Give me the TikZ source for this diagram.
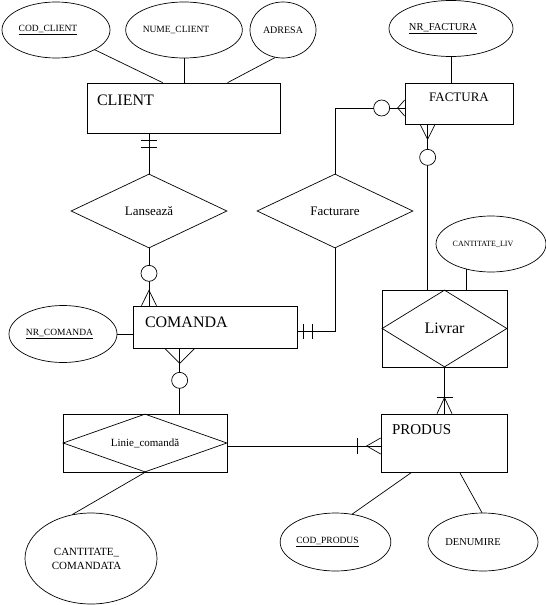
\documentclass[tikz,border=0pt]{standalone}
\usepackage{fontspec}
\setmainfont{Liberation Serif}
\usetikzlibrary{shapes.geometric, positioning, calc}
\newcommand{\fsz}[1]{\fontsize{#1}{#1}\selectfont}
\newcommand{\shl}[1]{#1\hspace*{16pt}}
\tikzset{
  % Entitati si relatii
  entity/.style={draw, rectangle, inner sep=0},
  ent text/.style={inner sep=0, font=\fsz{16}},
  rel/.style={draw, diamond, aspect=2.1, inner sep=0, minimum width=156, minimum height=74, font=\fsz{13}},
  % Atribute
  attr/.style={draw, ellipse, inner sep=0, minimum width=108, minimum height=56, font=\fsz{9.5}},
  % Conectori
  optional/.style={draw, circle, fill=white, inner sep=0, minimum size=16}
}

\begin{document}
\begin{tikzpicture}[x=1pt, y=-1pt, line width=0.7pt]
  \useasboundingbox (0,0) rectangle (546,605);
  % Entitati
  \node[entity, minimum width=193, minimum height=50] (client) at (183.5,108) {};
  \node[ent text, below right=12pt and 10pt of client.north west] (clientlbl) {CLIENT};
  \node[entity, minimum width=164, minimum height=42] (comanda) at (215,327) {};
  \node[ent text, below right=11pt and 12pt of comanda.north west] (comandalbl) {COMANDA};
  \node[entity, minimum width=108, minimum height=41] (factura) at (459,103.5) {};
  \node[ent text, font=\fsz{13}, below=10pt of factura.north] (facturalbl) {FACTURA};
  \node[entity, minimum width=126, minimum height=58] (produs) at (444,443) {};
  \node[ent text, font=\fsz{15}, below right=11pt and 11pt of produs.north west] (produslbl) {PRODUS};
  % Relatii
  \node[rel] (lanseaza) at (149,211) {Lansează};
  \node[rel] (facturare) at (335,211) {Facturare};
  \node[entity, minimum width=164, minimum height=58] (linie) at (145,443) {};
  \node[rel, aspect=2.83, minimum width=164, minimum height=58, font=\fsz{11}] (liniedia) at (linie) {Linie\_comandă};
  \node[entity, minimum width=125, minimum height=77] (livrar) at (444.5,328.5) {};
  \node[rel, aspect=1.62, minimum width=125, minimum height=77, font=\fsz{16}] (livrardia) at (livrar) {Livrar};
  % Atribute
  \node[attr] (codclient) at (56,30) {\shl{\underline{COD\_CLIENT}}};
  \node[attr, minimum width=116] (numeclient) at (184,30) {\shl{NUME\_CLIENT}};
  \node[attr, minimum width=66, font=\fsz{10}] (adresa) at (283,30) {ADRESA};
  \node[attr, minimum width=124, font=\fsz{10.5}] (nrfactura) at (451,28.5) {\shl{\underline{NR\_FACTURA}}};
  \node[attr, minimum width=110, font=\fsz{8}] (cantliv) at (491,244) {\shl{CANTITATE\_LIV}};
  \node[attr, minimum height=57] (nrcomanda) at (63,334) {\underline{NR\_COMANDA}\hspace*{7pt}};
  \node[attr, minimum width=132, minimum height=91, align=center, font=\fontsize{11}{14}\selectfont]
    (cantcom) at (91,558.5) {CANTITATE\_\hspace*{9pt}\\COMANDATA\hspace*{9pt}};
  \node[attr, minimum width=107, minimum height=58] (codprodus) at (335.5,542) {\shl{\underline{COD\_PRODUS}}};
  \node[attr, minimum width=110, minimum height=58, font=\fsz{10.5}] (denumire) at (483,542) {DENUMIRE\hspace*{20pt}};

  % Legaturi atribute
  \draw (codclient.-27) -- ($(client.north west)+(76,0)$);
  \draw (numeclient) -- (numeclient |- client.north);
  \draw (adresa.254) -- ($(client.north west)+(141,0)$);
  \draw (nrfactura) -- (nrfactura |- factura.north);
  \draw (cantliv.226) -- (cantliv.226 |- livrar.north);
  \draw (nrcomanda.east) -- (nrcomanda.east -| comanda.west);
  \draw (cantcom.113) -- (linie.south);
  \draw (codprodus.59.5) -- ($(produs.south west)+(31,0)$);
  \draw (denumire.92) -- ($(produs.south west)+(79,0)$);

  % CLIENT - Lanseaza
  \draw (lanseaza.north) -- (lanseaza.north |- client.south);
  \draw ($(lanseaza.north)+(-8,-26)$) -- ++(16,0)
        ($(lanseaza.north)+(-8,-33)$) -- ++(16,0);
  % Lanseaza - COMANDA
  \draw (lanseaza.south) -- (lanseaza.south |- comanda.north);
  \draw ($(lanseaza.south |- comanda.north)+(-7.5,0)$) -- ($(lanseaza.south)+(0,42)$)
        -- ($(lanseaza.south |- comanda.north)+(7.5,0)$);
  \node[optional] (o1) at ($(lanseaza.south)+(0,25)$) {};
  % COMANDA - Linie_comanda
  \coordinate (c1) at ($(comanda.south west)+(47,0)$);
  \draw (c1) -- (c1 |- linie.north);
  \draw ($(c1)+(-15,0)$) -- ($(c1)+(0,15)$) -- ($(c1)+(15,0)$);
  \node[optional] (o2) at ($(c1)+(0,32)$) {};
  % Linie_comanda - PRODUS
  \coordinate (l1) at ($(linie.east)+(0,3)$);
  \draw (l1) -- (l1 -| produs.west);
  \draw ($(l1 -| produs.west)+(-23,-8)$) -- ++(0,16);
  \draw ($(l1 -| produs.west)+(0,-8)$) -- ($(l1 -| produs.west)+(-14,0)$) -- ($(l1 -| produs.west)+(0,8)$);
  % Livrar - PRODUS
  \draw (livrar.south) -- (livrar.south |- produs.north);
  \draw ($(livrar.south |- produs.north)+(-8,-16)$) -- ++(16,0);
  \draw ($(livrar.south |- produs.north)+(-7.5,0)$) -- ($(livrar.south |- produs.north)+(0,-16)$)
        -- ($(livrar.south |- produs.north)+(7.5,0)$);
  % Livrar - FACTURA
  \coordinate (v1) at ($(livrar.north west)+(46,0)$);
  \draw (v1) -- (v1 |- factura.south);
  \draw ($(v1 |- factura.south)+(-7.5,0)$) -- ($(v1 |- factura.south)+(0,15)$)
        -- ($(v1 |- factura.south)+(7.5,0)$);
  \node[optional] (o3) at ($(v1 |- factura.south)+(0,33)$) {};
  % FACTURA - Facturare
  \coordinate (f1) at ($(factura.west)+(0,4.5)$);
  \draw (f1) -| (facturare.north);
  \draw ($(f1)+(0,-8)$) -- ($(f1)+(-7,0)$) -- ($(f1)+(0,8)$);
  \node[optional] (o4) at ($(f1)+(-23,0)$) {};
  % Facturare - COMANDA
  \coordinate (c2) at ($(comanda.east)+(0,4)$);
  \draw (facturare.south) |- (c2);
  \draw ($(c2)+(6,-7.5)$) -- ++(0,15)
        ($(c2)+(15,-7.5)$) -- ++(0,15);
\end{tikzpicture}
\end{document}
